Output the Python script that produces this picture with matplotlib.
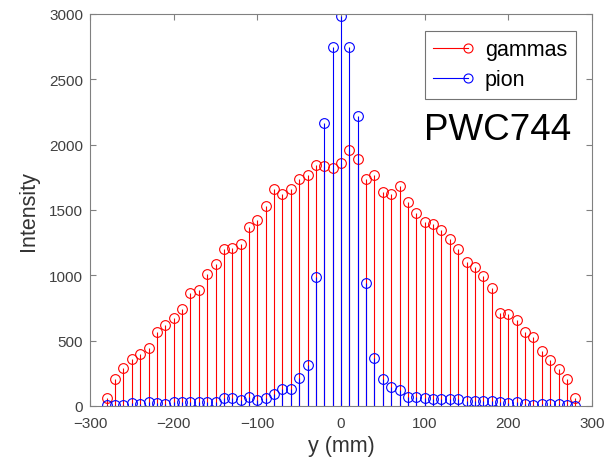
import matplotlib
matplotlib.use("Agg")
from matplotlib import pyplot as plt
from matplotlib.lines import Line2D
from matplotlib.legend_handler import HandlerBase
import numpy as np

# y positions (mm)
y_mm = list(range(-280, 290, 10))

# intensities
gammas = [59, 205, 294, 358, 401, 447, 567, 618, 677, 740,
          861, 889, 1008, 1090, 1205, 1210, 1243, 1371, 1420, 1530,
          1660, 1626, 1659, 1736, 1769, 1845, 1838, 1825, 1863, 1958,
          1889, 1736, 1767, 1639, 1621, 1685, 1562, 1476, 1409, 1391,
          1346, 1277, 1205, 1103, 1065, 992, 903, 715, 702, 656,
          567, 531, 421, 352, 286, 210, 59]
pion = [5, 10, 10, 20, 18, 34, 23, 18, 34, 34,
        34, 34, 34, 34, 59, 64, 46, 72, 46, 64,
        95, 128, 133, 217, 312, 988, 2165, 2744, 2982, 2749,
        2221, 940, 366, 210, 148, 123, 72, 66, 59, 51,
        51, 56, 56, 36, 36, 38, 38, 33, 23, 31,
        15, 10, 15, 15, 15, 5, 3]

labels = ["gammas", "pion"]
colors = ["#ff0000", "#0000ff"]

plt.rcParams["font.family"] = ["Liberation Sans", "DejaVu Sans"]


class StemHandler(HandlerBase):
    # matlab style legend entry: line with the marker at its right end
    def create_artists(self, legend, orig_handle, xdescent, ydescent,
                       width, height, fontsize, trans):
        c = orig_handle.get_color()
        y = height / 2 - ydescent
        line = Line2D([-xdescent, width - xdescent], [y, y], color=c, lw=0.8)
        mk = Line2D([width - xdescent], [y], marker="o", mfc="none", mec=c,
                    ms=6.5, mew=0.8, ls="none")
        line.set_transform(trans)
        mk.set_transform(trans)
        return [line, mk]


fig = plt.figure(figsize=(6.15, 4.6), dpi=100)
ax = fig.add_axes([90 / 615, 53 / 460, 502 / 615, 392 / 460])

handles = []
for vals, lab, c in zip([gammas, pion], labels, colors):
    markerline, stemlines, baseline = ax.stem(y_mm, vals, basefmt=" ")
    plt.setp(stemlines, color=c, linewidth=0.8)
    plt.setp(markerline, marker="o", mfc="none", mec=c, ms=7, mew=0.8)
    handles.append(Line2D([], [], color=c, label=lab))

ax.set_xlim(-300, 300)
ax.set_ylim(0, 3000)
ax.set_xticks(np.arange(-300, 301, 100))
ax.set_yticks(np.arange(0, 3001, 500))

for s in ax.spines.values():
    s.set_color("0.5")
    s.set_linewidth(0.8)
ax.tick_params(direction="in", length=4, width=0.8, color="0.5",
               top=True, right=True, labelsize=11, labelcolor="0.25", pad=5)
ax.tick_params(axis="x", pad=7.5)

ax.set_xlabel("y (mm)", fontsize=15.5, color="0.2", labelpad=3)
ax.set_ylabel("Intensity", fontsize=15.5, color="0.2", labelpad=7)

leg = ax.legend(handles=handles, loc="upper right",
                bbox_to_anchor=(0.9675, 0.957), borderaxespad=0,
                fontsize=15.5, handler_map={Line2D: StemHandler()},
                handlelength=1.6, handletextpad=0.8, labelspacing=0.4,
                borderpad=0.4, fancybox=False, framealpha=1)
leg.get_frame().set_edgecolor("0.45")
leg.get_frame().set_linewidth(0.8)

ax.text(275, 2040, "PWC744", fontsize=26.5, ha="right", va="baseline")

fig.savefig("out.png", dpi=100)
